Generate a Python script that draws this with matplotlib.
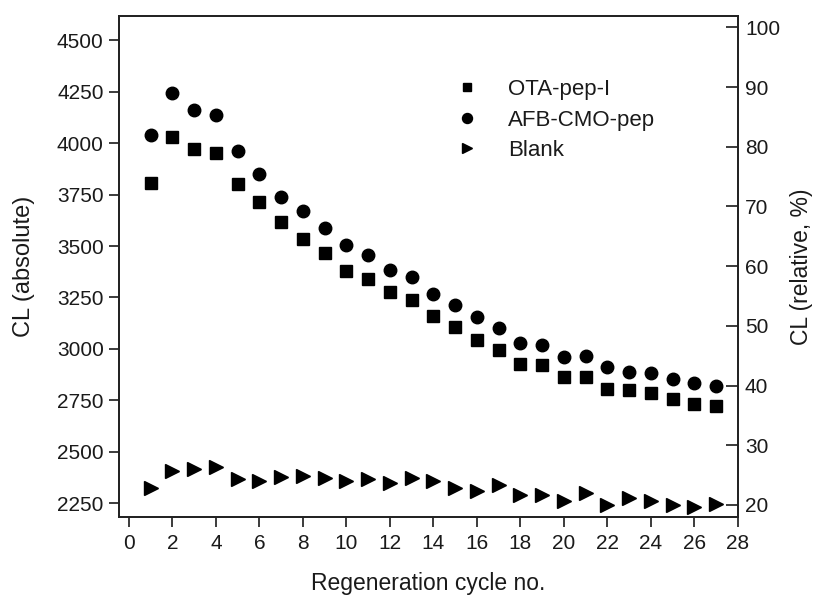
import matplotlib
matplotlib.use("Agg")
import matplotlib.pyplot as plt

plt.rcParams['font.family'] = ['Liberation Sans', 'DejaVu Sans']

cycles = list(range(1, 28))
ota_pep = [3807, 4028, 3969, 3950, 3801, 3712, 3615, 3535, 3464, 3377, 3341, 3278, 3239, 3160,
           3105, 3044, 2995, 2926, 2921, 2863, 2866, 2807, 2801, 2785, 2757, 2733, 2723]
afb_cmo = [4040, 4243, 4161, 4136, 3960, 3849, 3736, 3670, 3589, 3503, 3456, 3383, 3348, 3267,
           3212, 3157, 3102, 3031, 3018, 2960, 2967, 2911, 2888, 2882, 2856, 2835, 2820]
blank = [2326, 2406, 2417, 2429, 2369, 2357, 2380, 2383, 2371, 2357, 2369, 2351, 2371, 2360,
         2326, 2311, 2337, 2291, 2291, 2263, 2300, 2240, 2274, 2260, 2240, 2234, 2248]

series_labels = ["OTA-pep-I", "AFB-CMO-pep", "Blank"]
left_ticks = [2250, 2500, 2750, 3000, 3250, 3500, 3750, 4000, 4250, 4500]
right_ticks = [20, 30, 40, 50, 60, 70, 80, 90, 100]
x_ticks = list(range(0, 29, 2))

fig = plt.figure(figsize=(8.18, 5.96), dpi=100)
ax = fig.add_axes([119 / 818, 1 - 517 / 596, (738 - 119) / 818, (517 - 16) / 596])
ax2 = ax.twinx()

ax.plot(cycles, ota_pep, linestyle='none', marker='s', markersize=8, color='black', label=series_labels[0])
ax.plot(cycles, afb_cmo, linestyle='none', marker='o', markersize=9, color='black', label=series_labels[1])
ax.plot(cycles, blank, linestyle='none', marker='>', markersize=9.5, color='black', label=series_labels[2])

ax.set_xlim(-0.45, 28)
ax.set_ylim(2184, 4617)
ax2.set_ylim(17.99, 101.9)

ax.set_xticks(x_ticks)
ax.set_yticks(left_ticks)
ax2.set_yticks(right_ticks)

tc = '#1a1a1a'
ax.tick_params(axis='y', direction='out', length=7, width=1.2, labelsize=15, colors=tc, pad=4, right=False)
ax.tick_params(axis='x', direction='out', length=7, width=1.2, labelsize=15, colors=tc, pad=5, top=False)
ax2.tick_params(axis='y', direction='in', length=9, width=1.2, labelsize=15, colors=tc, pad=5)

for a in (ax, ax2):
    for s in a.spines.values():
        s.set_linewidth(1.3)
        s.set_color('#222222')

ax.set_xlabel("Regeneration cycle no.", fontsize=16.5, color=tc, labelpad=14)
ax.set_ylabel("CL (absolute)", fontsize=17, color=tc, labelpad=16)
ax2.set_ylabel("CL (relative, %)", fontsize=16.5, color=tc, labelpad=7)

leg = ax.legend(loc='upper left', bbox_to_anchor=(0.5444, 0.874), frameon=False, fontsize=16,
                markerscale=0.8, handletextpad=1.35, labelspacing=0.43, handlelength=1.0,
                borderpad=0, borderaxespad=0)
for t in leg.get_texts():
    t.set_color(tc)

fig.savefig("out.png", dpi=100)
